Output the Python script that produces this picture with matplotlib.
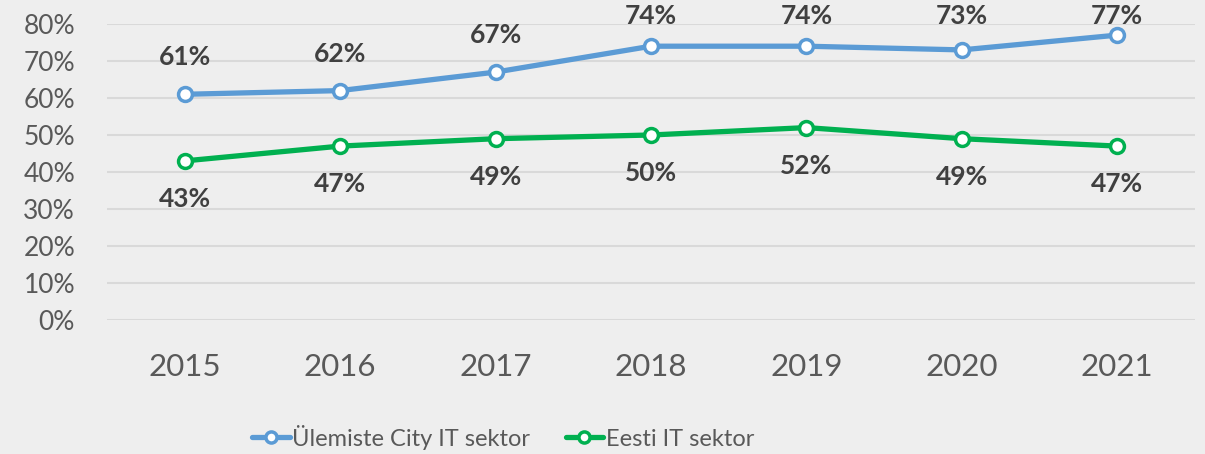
import matplotlib
matplotlib.use("Agg")
import matplotlib.pyplot as plt
from matplotlib.ticker import FuncFormatter

years = ["2015", "2016", "2017", "2018", "2019", "2020", "2021"]
ulemiste = [61, 62, 67, 74, 74, 73, 77]
eesti = [43, 47, 49, 50, 52, 49, 47]
series_names = ["Ülemiste City IT sektor", "Eesti IT sektor"]
colors = ["#5B9BD5", "#00B050"]

plt.rcParams['font.family'] = ['Lato', 'DejaVu Sans']

fig = plt.figure(figsize=(12.05, 4.54), dpi=100, facecolor="#EEEEEE")
ax = fig.add_axes([107/1205, 134/454, (1195-107)/1205, (320-24)/454])
ax.set_facecolor("#EEEEEE")

x = list(range(len(years)))
for vals, col, name, above in [(ulemiste, colors[0], series_names[0], True),
                               (eesti, colors[1], series_names[1], False)]:
    ax.plot(x, vals, color=col, lw=3.8, marker='o', ms=10, mfc='white', mec=col, mew=2.5,
            label=name, solid_capstyle='round', zorder=3, clip_on=False)
    for xi, v in zip(x, vals):
        ly = min(v + 10, 82.2) if above else v - 10.3
        ax.text(xi, ly, f"{v}%", ha='center', va='center', fontsize=19, fontweight='bold',
                color="#404040", clip_on=False)

ax.set_xlim(-0.5, len(years) - 0.5)
ax.set_ylim(0, 80)
ax.set_yticks(range(0, 81, 10))
ax.yaxis.set_major_formatter(FuncFormatter(lambda v, p: f"{int(v)}%"))
ax.set_xticks(x)
ax.set_xticklabels(years)
ax.tick_params(axis='y', length=0, pad=23, labelsize=19, labelcolor="#595959")
ax.tick_params(axis='x', length=0, pad=24, labelsize=22.5, labelcolor="#595959")
ax.grid(axis='y', color="#D9D9D9", lw=1.5)
ax.set_axisbelow(True)
for s in ax.spines.values():
    s.set_visible(False)

leg = fig.legend(loc='center left', bbox_to_anchor=(252/1205, 1 - 437/454), ncol=2, frameon=False,
                 fontsize=17, labelcolor="#595959", handlelength=1.6, handletextpad=0.1,
                 columnspacing=1.5, borderpad=0, borderaxespad=0, markerscale=0.8)

fig.savefig("out.png", dpi=100, facecolor="#EEEEEE")
